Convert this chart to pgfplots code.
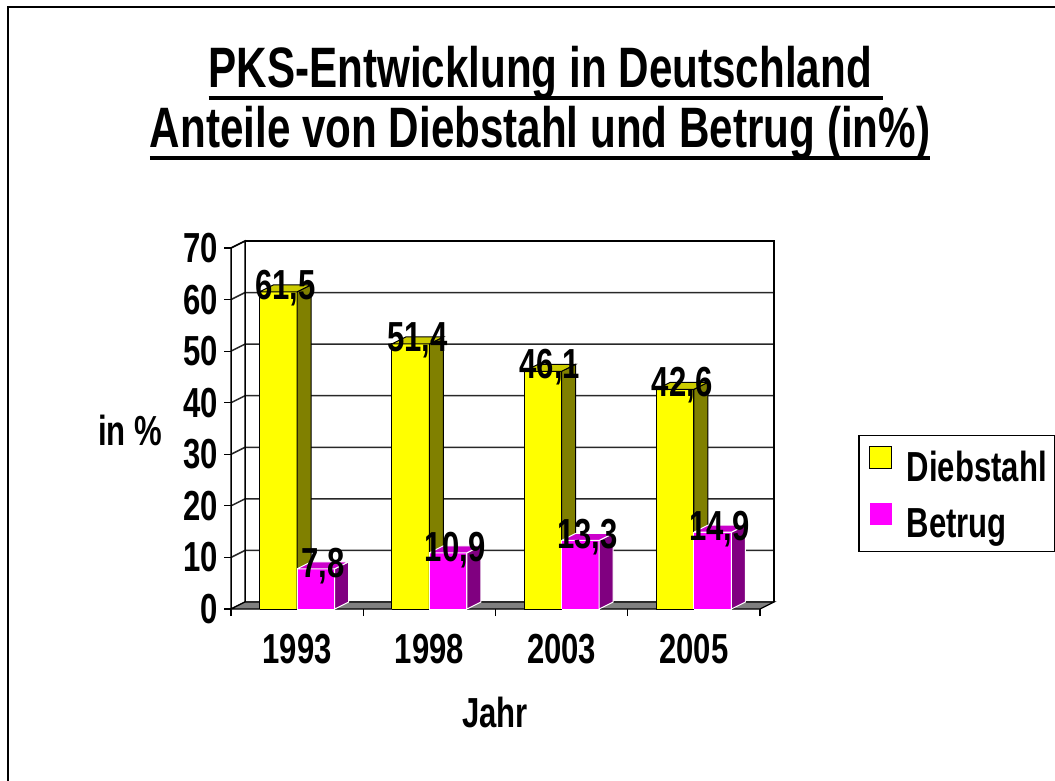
\documentclass[border=0pt]{standalone}
\usepackage{fontspec}
\setmainfont{Liberation Sans}[FakeStretch=0.74]
\usepackage{pgfplots}
\pgfplotsset{compat=1.18}
\definecolor{yfront}{RGB}{255,255,0}
\definecolor{yside}{RGB}{128,128,0}
\definecolor{ytop}{RGB}{204,204,0}
\definecolor{mfront}{RGB}{255,0,255}
\definecolor{mside}{RGB}{128,0,128}
\definecolor{mtop}{RGB}{204,0,204}
\definecolor{floorc}{RGB}{128,128,128}
\definecolor{gridc}{RGB}{40,40,40}
\newcommand\ul[1]{\setbox0\hbox{#1}\rlap{\rule[-12pt]{\wd0}{3.5pt}}\box0}
\def\dx{0.106}
\def\dy{1.357}
\def\bw{0.2836}
\begin{document}
\begin{tikzpicture}[x=1pt,y=1pt]
\useasboundingbox (0,0) rectangle (1055,780);
\clip (0,0) rectangle (1055,780);
\fill[white] (0,0) rectangle (1055,780);
\draw[line width=2.5pt] (8,773) rectangle (1080,-20);
\node[anchor=base, inner sep=0pt, font=\fontsize{57}{60}\selectfont\bfseries] at (546,692) {\ul{PKS-Entwicklung in Deutschland\ }};
\node[anchor=base, inner sep=0pt, font=\fontsize{57}{60}\selectfont\bfseries] at (540,632) {\ul{Anteile von Diebstahl und Betrug (in\%)}};
\node[font=\fontsize{42}{44}\selectfont\bfseries, inner sep=0pt] at (130,350) {in \%};
\node[font=\fontsize{42}{44}\selectfont\bfseries, inner sep=0pt] at (495,68) {Jahr};
\begin{axis}[
  at={(231pt,171pt)}, anchor=south west,
  scale only axis, width=543pt, height=368pt,
  xmin=-0.5, xmax=3.606, ymin=0, ymax=71.357,
  axis line style={draw=none},
  tick pos=left,
  tick align=outside,
  ytick={0,10,...,70},
  xtick={-0.5,0.5,1.5,2.5,3.5},
  xticklabels={},
  extra x ticks={0,1,2,3},
  extra x tick labels={1993,1998,2003,2005},
  extra x tick style={major tick length=0pt},
  major tick length=7pt,
  tick style={black, line width=1.2pt},
  ticklabel style={font=\fontsize{42}{44}\selectfont\bfseries, inner sep=0pt},
  yticklabel style={xshift=-6pt},
  xticklabel style={yshift=-25pt},
  /pgf/number format/assume math mode=true,
  clip=false,
  legend style={at={(1.1547,0.4729)}, anchor=north west, draw=black, line width=1.5pt,
    font=\fontsize{42}{44}\selectfont\bfseries, inner xsep=6pt, inner ysep=10pt,
    row sep=18pt, cells={anchor=west}},
  legend image code/.code={\path[#1, line width=1.2pt] (5pt,-1pt) rectangle (27pt,21pt); \path[draw=none, fill=none] (0pt,10pt) -- (40pt,10pt);},
]
\addlegendimage{fill=yfront, draw=black}
\addlegendentry{Diebstahl}
\addlegendimage{fill=mfront, draw=none}
\addlegendentry{Betrug}
% walls and gridlines
\foreach \v in {0,10,...,70}{
  \pgfmathsetmacro\vb{\v+\dy}
  \edef\tmp{\noexpand\addplot[forget plot, draw=gridc, line width=1.5pt] coordinates {(-0.5,\v) (-0.394,\vb) (3.606,\vb)};}\tmp
}
\addplot[forget plot, fill=floorc, draw=black, line width=1.2pt] coordinates {(-0.5,0) (3.5,0) (3.606,1.357) (-0.394,1.357) (-0.5,0)};
\addplot[forget plot, draw=black, line width=1.5pt] coordinates {(-0.5,0) (-0.5,70) (-0.394,71.357) (-0.394,1.357)};
\addplot[forget plot, draw=black, line width=2.5pt] coordinates {(-0.394,71.357) (3.606,71.357) (3.606,1.357)};
% bars
\foreach \cat/\Y/\M in {0/61.5/7.8, 1/51.4/10.9, 2/46.1/13.3, 3/42.6/14.9}{
  \pgfmathsetmacro\xa{\cat-\bw}
  \pgfmathsetmacro\xad{\cat-\bw+\dx}
  \pgfmathsetmacro\xd{\cat+\dx}
  \pgfmathsetmacro\xb{\cat+\bw}
  \pgfmathsetmacro\xbd{\cat+\bw+\dx}
  \pgfmathsetmacro\Yd{\Y+\dy}
  \pgfmathsetmacro\Md{\M+\dy}
  \edef\tmp{%
  \noexpand\addplot[forget plot, fill=yfront, draw=black, line width=1pt] coordinates {(\xa,0) (\cat,0) (\cat,\Y) (\xa,\Y) (\xa,0)};
  \noexpand\addplot[forget plot, fill=yside, draw=black, line width=1pt] coordinates {(\cat,0) (\xd,\dy) (\xd,\Yd) (\cat,\Y) (\cat,0)};
  \noexpand\addplot[forget plot, fill=ytop, draw=black, line width=1pt] coordinates {(\xa,\Y) (\cat,\Y) (\xd,\Yd) (\xad,\Yd) (\xa,\Y)};
  \noexpand\addplot[forget plot, fill=mfront, draw=white, line width=1pt] coordinates {(\cat,0) (\xb,0) (\xb,\M) (\cat,\M) (\cat,0)};
  \noexpand\addplot[forget plot, fill=mside, draw=white, line width=1pt] coordinates {(\xb,0) (\xbd,\dy) (\xbd,\Md) (\xb,\M) (\xb,0)};
  \noexpand\addplot[forget plot, fill=mtop, draw=white, line width=1pt] coordinates {(\cat,\M) (\xb,\M) (\xbd,\Md) (\xd,\Md) (\cat,\M)};
  }\tmp
}
% data labels
\foreach \cat/\Y/\M in {0/61.5/7.8, 1/51.4/10.9, 2/46.1/13.3, 3/42.6/14.9}{
  \pgfmathsetmacro\lyx{\cat-\bw/2+\dx/2}
  \pgfmathsetmacro\lyy{\Y+\dy/2+0.7}
  \pgfmathsetmacro\lmx{\cat+\bw/2+\dx/2}
  \pgfmathsetmacro\lmy{\M+\dy/2+0.5}
  \edef\tmp{%
  \noexpand\node[inner sep=0pt, text depth=0pt, font=\noexpand\fontsize{42}{44}\noexpand\selectfont\noexpand\bfseries] at (axis cs:\lyx,\lyy) {\noexpand\pgfmathprintnumber[use comma, fixed, precision=1, fixed zerofill, assume math mode=true]{\Y}};
  \noexpand\node[inner sep=0pt, text depth=0pt, font=\noexpand\fontsize{42}{44}\noexpand\selectfont\noexpand\bfseries] at (axis cs:\lmx,\lmy) {\noexpand\pgfmathprintnumber[use comma, fixed, precision=1, fixed zerofill, assume math mode=true]{\M}};
  }\tmp
}
\end{axis}
\end{tikzpicture}
\end{document}
